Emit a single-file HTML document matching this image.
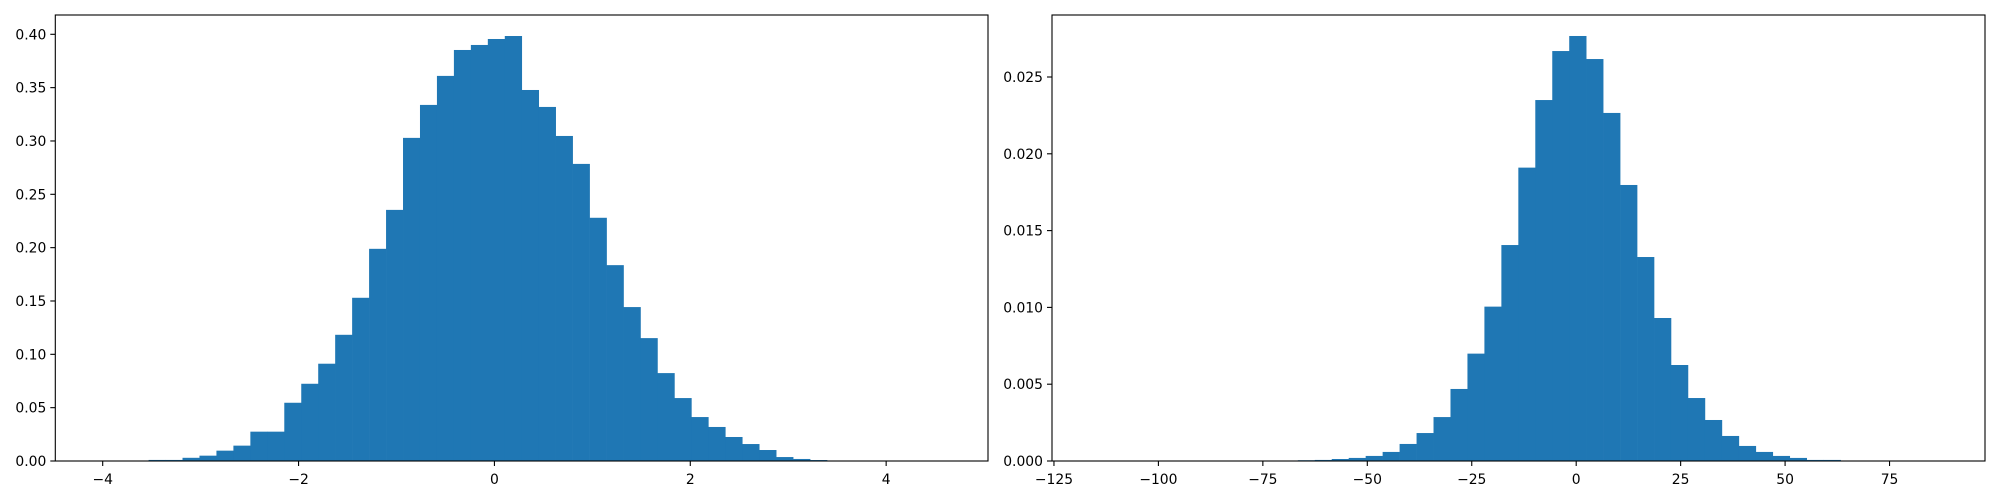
<!DOCTYPE html>
<html><head><meta charset="utf-8"><style>
html,body{margin:0;padding:0;background:#fff;}
svg{display:block;font-family:"DejaVu Sans","Liberation Sans",sans-serif;}
</style></head><body>
<svg id="chart" width="2000" height="500" viewBox="0 0 2000 500" xmlns="http://www.w3.org/2000/svg"></svg>
<script>
// Left histogram data
const leftBinStart = -4.051;
const leftBinWidth = 0.1732;
const leftDensity = [0.0001,0,0,0.001,0.001,0.003,0.005,0.0097,0.0144,0.0275,
  0.0275,0.0546,0.0724,0.0912,0.1183,0.153,0.1989,0.2354,0.3029,0.3338,
  0.361,0.3853,0.39,0.3956,0.3984,0.3478,0.3319,0.3047,0.2785,0.228,
  0.1836,0.1443,0.1152,0.0824,0.059,0.0412,0.0319,0.0225,0.0159,0.0103,
  0.0037,0.0019,0.0009,0.0003,0.0002,0.0001,0.0001,0,0,0.0001];
const leftXTicks = [-4,-2,0,2,4];
const leftYTicks = [0,0.05,0.10,0.15,0.20,0.25,0.30,0.35,0.40];
const leftYTickLabels = ["0.00","0.05","0.10","0.15","0.20","0.25","0.30","0.35","0.40"];

// Right histogram data
const rightBinStart = -115.35;
const rightBinWidth = 4.06;
const rightDensity = [0.00002,0,0,0,0,0,0,0,0,0,
  0,0,0.00005,0.00007,0.00013,0.0002,0.00033,0.00059,0.00111,0.00182,
  0.00286,0.00469,0.00699,0.01005,0.01406,0.0191,0.0235,0.02669,0.02767,0.02617,
  0.02266,0.01797,0.01328,0.00931,0.00625,0.0041,0.00267,0.00163,0.00098,0.00059,
  0.00033,0.0002,0.00007,0.00007,0.00003,0.00002,0.00002,0.00001,0,0.00002];
const rightXTicks = [-125,-100,-75,-50,-25,0,25,50,75];
const rightYTicks = [0,0.005,0.010,0.015,0.020,0.025];
const rightYTickLabels = ["0.000","0.005","0.010","0.015","0.020","0.025"];

const NS = "http://www.w3.org/2000/svg";
const svg = document.getElementById('chart');
function mk(tag, attrs, parent){
  const e = document.createElementNS(NS, tag);
  for (const k in attrs) e.setAttribute(k, attrs[k]);
  parent.appendChild(e);
  return e;
}

function drawPanel(cfg){
  const g = mk('g', {}, svg);
  
  
  const L = cfg.left, R = cfg.right, T = 15, B = 461;
  const xs = v => L + (v - cfg.xmin) / (cfg.xmax - cfg.xmin) * (R - L);
  const ys = v => B - v / cfg.ymax * (B - T);
  const bars = mk('g', {}, g);
  
  
  cfg.data.forEach((d, i) => {
    if (d <= 0) return;
    const x0 = xs(cfg.binStart + i * cfg.binWidth);
    const x1 = xs(cfg.binStart + (i + 1) * cfg.binWidth);
    const y = ys(d);
    const r = mk('rect', {x: x0, y: y, width: x1 - x0 + 0.3, height: Math.max(B - y, 0.6), fill: '#1f77b4'}, bars);
    
    
  });
  const f = mk('rect', {x: L, y: T, width: R - L, height: B - T, fill: 'none', stroke: '#000', 'stroke-width': 1.1}, g);
  
  
  const xa = mk('g', {}, g);
  
  
  cfg.xticks.forEach(v => {
    const x = xs(v);
    mk('line', {x1: x, x2: x, y1: B, y2: B + 5, stroke: '#000', 'stroke-width': 1.1}, xa);
    const t = mk('text', {x: x, y: B + 23, 'font-size': 13.9, 'text-anchor': 'middle', fill: '#000'}, xa);
    
    
    t.textContent = v < 0 ? '\u2212' + Math.abs(v) : String(v);
  });
  const ya = mk('g', {}, g);
  
  
  cfg.yticks.forEach((v, i) => {
    const y = ys(v);
    mk('line', {x1: L - 5, x2: L, y1: y, y2: y, stroke: '#000', 'stroke-width': 1.1}, ya);
    const t = mk('text', {x: L - 9, y: y + 5, 'font-size': 13.9, 'text-anchor': 'end', fill: '#000'}, ya);
    
    
    t.textContent = cfg.ylabels[i];
  });
}

drawPanel({name: 'left-histogram', left: 55.3, right: 988, xmin: -4.484, xmax: 5.04, ymax: 0.40 * (461 - 15) / (461 - 34.3),
  data: leftDensity, binStart: leftBinStart, binWidth: leftBinWidth, xticks: leftXTicks, yticks: leftYTicks, ylabels: leftYTickLabels});
drawPanel({name: 'right-histogram', left: 1052, right: 1985, xmin: -125.47, xmax: 97.85, ymax: 0.025 * (461 - 15) / (461 - 77),
  data: rightDensity, binStart: rightBinStart, binWidth: rightBinWidth, xticks: rightXTicks, yticks: rightYTicks, ylabels: rightYTickLabels});
</script>
</body></html>
